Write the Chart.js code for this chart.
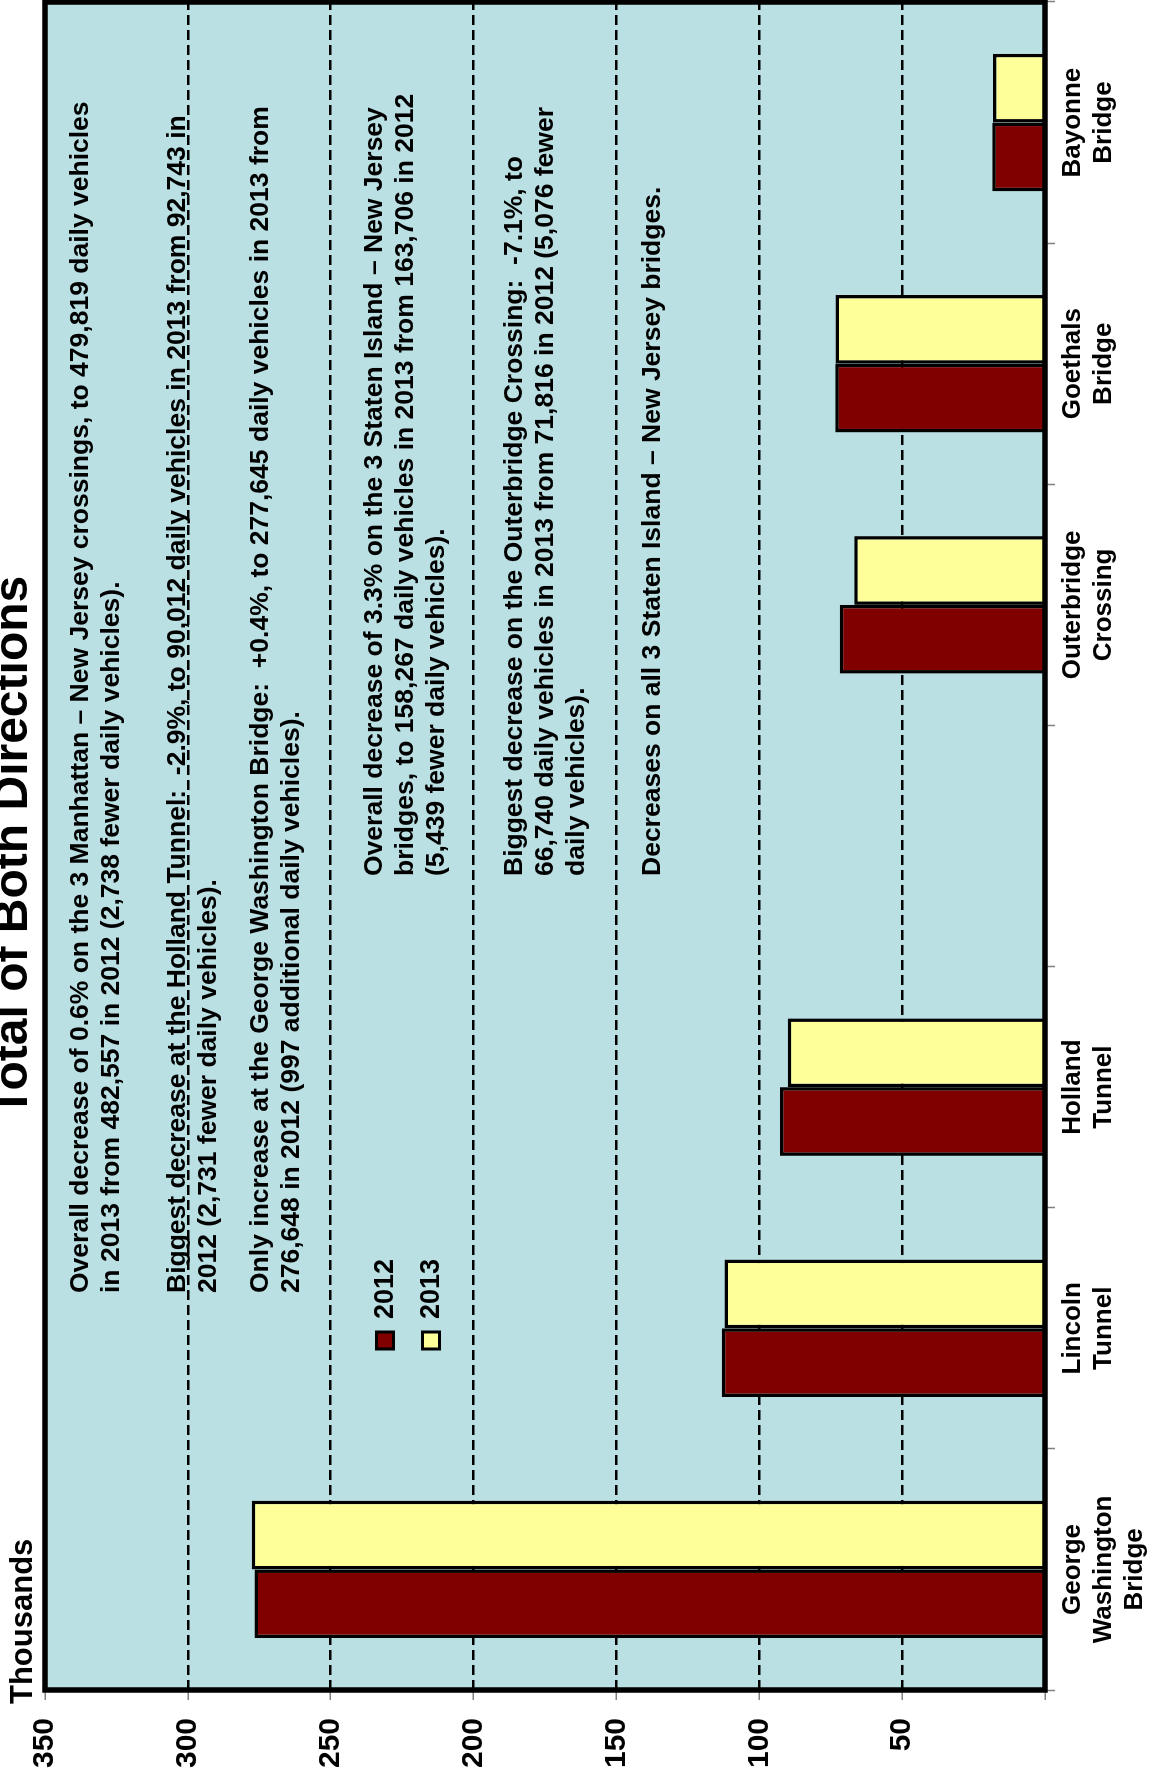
<!DOCTYPE html>
<html><head><meta charset="utf-8">
<script src="https://cdn.jsdelivr.net/npm/chart.js@4/dist/chart.umd.min.js"></script>
<style>
html,body{margin:0;padding:0;background:#fff;width:1152px;height:1780px;overflow:hidden;}
#wrap{position:absolute;left:0;top:0;width:1780px;height:1152px;transform-origin:0 0;transform:translateY(1780px) rotate(-90deg);}
canvas{display:block;}
</style></head><body>
<div id="wrap"><canvas id="c" width="1780" height="1152"></canvas></div>
<script>
// ---- data ----
const categories = [["George","Washington","Bridge"],["Lincoln","Tunnel"],["Holland","Tunnel"],"",["Outerbridge","Crossing"],["Goethals","Bridge"],["Bayonne","Bridge"]];
const seriesNames = ["2012","2013"];
const values2012 = [276.648, 113.166, 92.743, null, 71.816, 73.4, 18.5];
const values2013 = [277.645, 112.162, 90.012, null, 66.740, 73.3, 18.2];
const valueTicks = [0,50,100,150,200,250,300,350];
const valueTickLabels = ["","50","100","150","200","250","300","350"];
const titleText = "Total of Both Directions";
const unitText = "Thousands";
const notesManhattan = [
 ["Overall decrease of 0.6% on the 3 Manhattan \u2013 New Jersey crossings, to 479,819 daily vehicles","in 2013 from 482,557 in 2012 (2,738 fewer daily vehicles)."],
 ["Biggest decrease at the Holland Tunnel:  -2.9%, to 90,012 daily vehicles in 2013 from 92,743 in","2012 (2,731 fewer daily vehicles)."],
 ["Only increase at the George Washington Bridge:  +0.4%, to 277,645 daily vehicles in 2013 from","276,648 in 2012 (997 additional daily vehicles)."]
];
const notesStaten = [
 ["Overall decrease of 3.3% on the 3 Staten Island \u2013 New Jersey","bridges, to 158,267 daily vehicles in 2013 from 163,706 in 2012","(5,439 fewer daily vehicles)."],
 ["Biggest decrease on the Outerbridge Crossing:  -7.1%, to","66,740 daily vehicles in 2013 from 71,816 in 2012 (5,076 fewer","daily vehicles)."],
 ["Decreases on all 3 Staten Island \u2013 New Jersey bridges."]
];

// ---- style ----
const FONT = "'Liberation Sans', Arial, sans-serif";
const RED = "#800000", YEL = "#FFFF99", BG = "#BBE0E3";

const deco = {
  id: 'deco',
  beforeDraw(chart) {
    const {ctx, chartArea: a} = chart;
    ctx.save();
    ctx.fillStyle = '#fff';
    ctx.fillRect(0, 0, chart.width, chart.height);
    ctx.fillStyle = BG;
    ctx.fillRect(a.left, a.top, a.right - a.left, a.bottom - a.top);
    ctx.restore();
  },
  afterDatasetsDraw(chart) {
    const {ctx, chartArea: a} = chart;
    ctx.save();
    ctx.strokeStyle = '#000';
    ctx.lineWidth = 5.5;
    ctx.strokeRect(a.left, a.top, a.right - a.left, a.bottom - a.top);
    ctx.restore();
  },
  afterDraw(chart) {
    const {ctx, chartArea: a} = chart;
    ctx.save();
    ctx.fillStyle = '#000';
    ctx.textBaseline = 'alphabetic';
    // title
    ctx.font = "bold 48px " + FONT;
    ctx.textAlign = 'center';
    ctx.fillText(titleText, (a.left + a.right) / 2, 27);
    // unit
    ctx.font = "bold 31px " + FONT;
    ctx.textAlign = 'left';
    ctx.fillText(unitText, 76, 32);
    // notes
    ctx.font = "bold 26.5px " + FONT;
    const leftX = 487, rightX = 904;
    const mBase = [88, 185, 268];
    notesManhattan.forEach((p, i) => p.forEach((l, j) => ctx.fillText(l, leftX, mBase[i] + j * 31)));
    const sBase = [382, 522, 660];
    notesStaten.forEach((p, i) => p.forEach((l, j) => ctx.fillText(l, rightX, sBase[i] + j * 31)));
    // legend
    const colors = [RED, YEL];
    const legY = [385, 431];
    seriesNames.forEach((n, i) => {
      ctx.fillStyle = colors[i];
      ctx.fillRect(431, legY[i] - 8.5, 17, 17);
      ctx.strokeStyle = '#000';
      ctx.lineWidth = 3;
      ctx.strokeRect(431, legY[i] - 8.5, 17, 17);
      ctx.fillStyle = '#000';
      ctx.font = "bold 27px " + FONT;
      ctx.textBaseline = 'middle';
      ctx.fillText(n, 461, legY[i] + 1);
    });
    ctx.restore();
  }
};

new Chart(document.getElementById('c'), {
  type: 'bar',
  data: {
    labels: categories,
    datasets: [
      {label: seriesNames[0], data: values2012, backgroundColor: RED, borderColor: '#000', borderWidth: 3.5},
      {label: seriesNames[1], data: values2013, backgroundColor: YEL, borderColor: '#000', borderWidth: 3.5}
    ]
  },
  options: {
    responsive: false,
    animation: false,
    devicePixelRatio: 1,
    layout: {padding: {left: 0, top: 45, right: 2, bottom: 0}},
    plugins: {legend: {display: false}, title: {display: false}, tooltip: {enabled: false}},
    datasets: {bar: {categoryPercentage: 0.57, barPercentage: 1.0}},
    scales: {
      x: {
        grid: {drawOnChartArea: false, drawTicks: true, tickLength: 10, tickColor: '#808080', tickWidth: 1.5, offset: true},
        border: {display: false},
        ticks: {color: '#000', font: {family: FONT, size: 26, weight: 'bold', lineHeight: 1.2}, autoSkip: false, maxRotation: 0, minRotation: 0, padding: 2},
        afterFit(s) { s.height = 107; }
      },
      y: {
        min: 0, max: 350,
        afterBuildTicks(s) { s.ticks = valueTicks.map(v => ({value: v})); },
        grid: {color: '#000', lineWidth: 2.5, drawTicks: true, tickLength: 10, tickColor: '#808080', tickWidth: 1.5},
        border: {display: false, dash: [10, 5]},
        ticks: {color: '#000', font: {family: FONT, size: 30, weight: 'bold'}, padding: 18,
          callback: (v) => { const i = valueTicks.indexOf(v); return i >= 0 ? valueTickLabels[i] : ''; }},
        afterFit(s) { s.width = 90; }
      }
    }
  },
  plugins: [deco]
});
</script>
</body></html>
